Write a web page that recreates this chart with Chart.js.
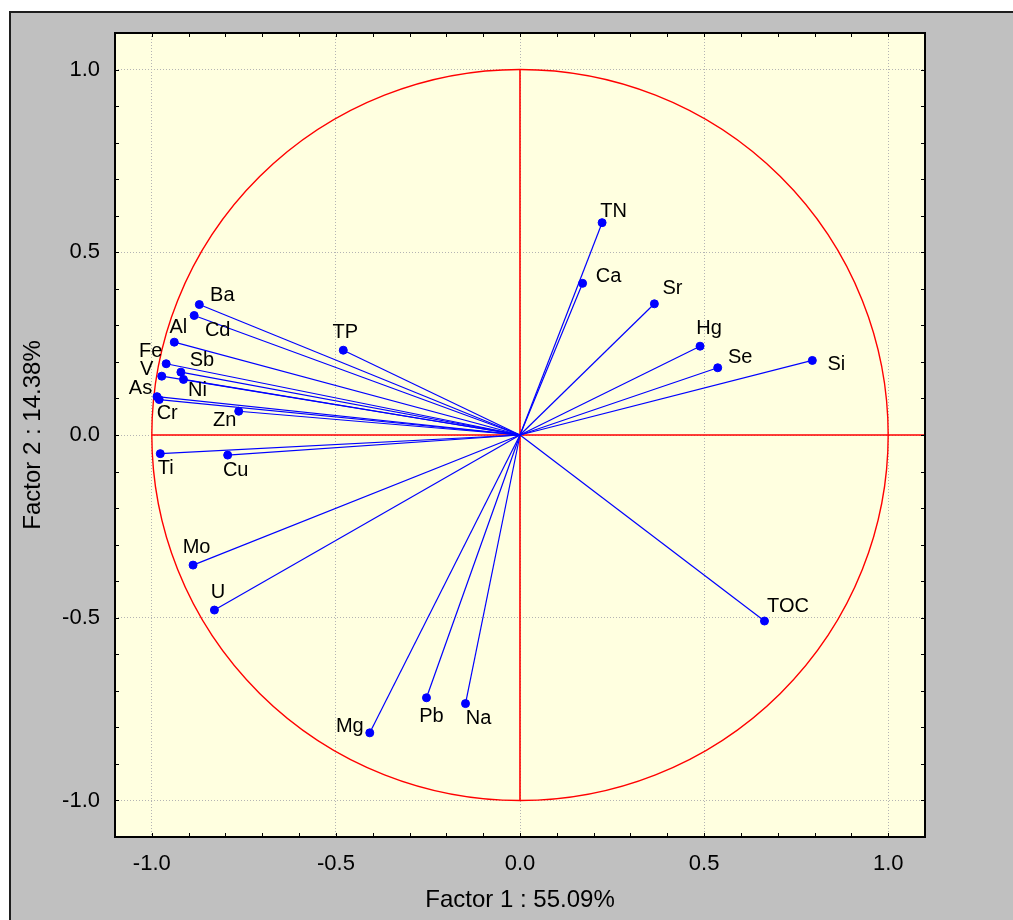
<!DOCTYPE html>
<html>
<head>
<meta charset="utf-8">
<script src="https://cdn.jsdelivr.net/npm/chart.js@4.4.1/dist/chart.umd.min.js"></script>
<style>
  html, body { margin: 0; padding: 0; overflow: hidden; background: #fff; }
  #frame { position: absolute; left: 9px; top: 11px; width: 1020px; height: 920px;
           background: #c0c0c0; border-left: 2px solid #1e1e1e; border-top: 2px solid #1e1e1e; }
  #Chart { position: absolute; left: 0; top: 0; }
</style>
</head>
<body>
<div id="frame"></div>
<canvas id="Chart" width="1013" height="920"></canvas>
<script>
const variables = ["TN","Ca","Sr","Hg","Se","Si","TOC","Na","Pb","Mg","U","Mo","Ti","Cu",
                   "TP","Ba","Cd","Al","Fe","V","Sb","Ni","As","Cr","Zn"];
const factor1 = [0.223, 0.170, 0.365, 0.489, 0.537, 0.794, 0.664, -0.148, -0.254, -0.408,
                 -0.830, -0.888, -0.977, -0.794, -0.480, -0.871, -0.885, -0.939, -0.961,
                 -0.973, -0.921, -0.914, -0.986, -0.980, -0.764];
const factor2 = [0.581, 0.415, 0.359, 0.243, 0.184, 0.204, -0.509, -0.735, -0.719, -0.815,
                 -0.479, -0.356, -0.051, -0.055, 0.232, 0.357, 0.327, 0.254, 0.195,
                 0.161, 0.172, 0.152, 0.105, 0.097, 0.065];
const axisTicks = [-1, -0.5, 0, 0.5, 1];

// where each name sits relative to its point (text centre, px)
const labelOffsets = {
  TN:[11.5,-13], Ca:[26,-8.5], Sr:[18,-17], Hg:[9,-19], Se:[22.5,-12], Si:[24,3],
  TOC:[23.5,-16], Na:[13,13], Pb:[5,17], Mg:[-20,-8], U:[3.5,-19], Mo:[3.5,-19],
  Ti:[5.5,13.5], Cu:[8,14], TP:[2,-19.5], Ba:[23,-11], Cd:[23.5,13.5], Al:[4,-16],
  Fe:[-15.5,-14], V:[-15,-8], Sb:[21,-13], Ni:[14,9.5], As:[-16.5,-9.5], Cr:[8,12.5],
  Zn:[-14,8]
};

const FONT = "'Liberation Sans', Arial, sans-serif";
const BLUE = "#0000ff";
const RED = "#ff0000";

const datasets = variables.map((name, i) => ({
  label: name,
  data: [{x: 0, y: 0}, {x: factor1[i], y: factor2[i]}],
  showLine: true,
  borderColor: BLUE,
  borderWidth: 1.2,
  pointRadius: [0, 4],
  pointHoverRadius: [0, 4],
  pointBackgroundColor: BLUE,
  pointBorderColor: BLUE,
  pointBorderWidth: 1
}));

const decor = {
  id: "decor",
  beforeDraw(chart) {
    const {ctx, chartArea: a} = chart;
    ctx.save();
    ctx.fillStyle = "#ffffe0";
    ctx.fillRect(a.left, a.top, a.right - a.left, a.bottom - a.top);
    ctx.restore();
  },
  beforeDatasetsDraw(chart) {
    const {ctx, chartArea: a, scales: {x, y}} = chart;
    const cx = x.getPixelForValue(0), cy = y.getPixelForValue(0);
    const rx = x.getPixelForValue(1) - cx, ry = cy - y.getPixelForValue(1);
    ctx.save();
    ctx.strokeStyle = RED;
    ctx.lineWidth = 1.4;
    ctx.beginPath();
    ctx.ellipse(cx, cy, rx, ry, 0, 0, Math.PI * 2);
    ctx.stroke();
    ctx.lineWidth = 1.6;
    ctx.beginPath();
    ctx.moveTo(cx, y.getPixelForValue(1));
    ctx.lineTo(cx, y.getPixelForValue(-1));
    ctx.moveTo(x.getPixelForValue(-1), cy);
    ctx.lineTo(a.right, cy);
    ctx.stroke();
    ctx.restore();
  },
  afterDatasetsDraw(chart) {
    const {ctx} = chart;
    ctx.save();
    ctx.font = "20px " + FONT;
    ctx.fillStyle = "#000";
    ctx.textAlign = "center";
    ctx.textBaseline = "alphabetic";
    chart.data.datasets.forEach((ds, i) => {
      const pt = chart.getDatasetMeta(i).data[1];
      const off = labelOffsets[ds.label] || [10, -10];
      ctx.fillText(ds.label, pt.x + off[0], pt.y + off[1] + 7);
    });
    ctx.restore();
  },
  afterDraw(chart) {
    const {ctx, chartArea: a, scales: {x, y}} = chart;
    ctx.save();
    ctx.strokeStyle = "#000";
    ctx.lineWidth = 1;
    ctx.beginPath();
    for (let k = -10; k <= 10; k++) {
      const v = k / 10, len = 4;
      const px = Math.round(x.getPixelForValue(v)) + 0.5;
      const py = Math.round(y.getPixelForValue(v)) + 0.5;
      ctx.moveTo(px, a.top); ctx.lineTo(px, a.top + len);
      ctx.moveTo(px, a.bottom); ctx.lineTo(px, a.bottom - len);
      ctx.moveTo(a.left, py); ctx.lineTo(a.left + len, py);
      ctx.moveTo(a.right, py); ctx.lineTo(a.right - len, py);
    }
    ctx.stroke();
    ctx.lineWidth = 2;
    ctx.strokeRect(a.left, a.top, a.right - a.left, a.bottom - a.top);
    ctx.restore();
  }
};

function axis(title, isX) {
  return {
    type: "linear",
    min: -1.1,
    max: 1.1,
    afterBuildTicks: s => { s.ticks = axisTicks.map(v => ({value: v})); },
    afterFit: s => { if (isX) s.height = 83; else s.width = 115; },
    grid: {color: "#b4b4b4", lineWidth: 1, drawTicks: false},
    border: {display: false, dash: [1, 2]},
    ticks: {
      padding: isX ? 14 : 15,
      color: "#000",
      font: {size: 22, family: FONT},
      callback: v => Number(v).toFixed(1)
    },
    title: {
      display: true,
      text: title,
      color: "#000",
      font: {size: 24, family: FONT},
      padding: isX ? {top: 0, bottom: 5} : {top: 19, bottom: 0}
    }
  };
}

new Chart("Chart", {
  type: "scatter",
  data: {datasets: datasets},
  options: {
    responsive: false,
    animation: false,
    layout: {padding: {left: 0, top: 33, right: 88, bottom: 0}},
    plugins: {legend: {display: false}, tooltip: {enabled: false}},
    scales: {
      x: axis("Factor 1 : 55.09%", true),
      y: axis("Factor 2 : 14.38%", false)
    }
  },
  plugins: [decor]
});
</script>
</body>
</html>
